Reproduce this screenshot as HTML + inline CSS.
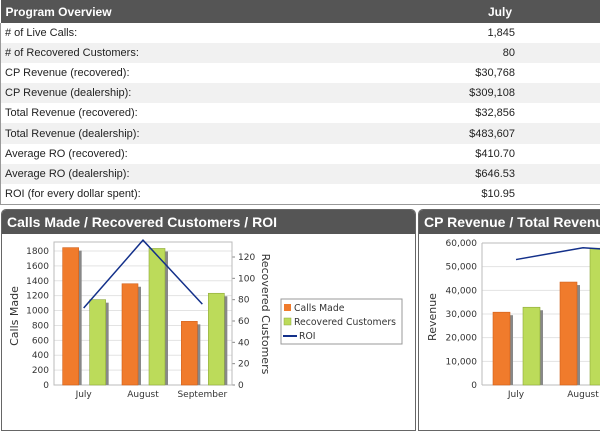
<!DOCTYPE html>
<html><head><meta charset="utf-8"><style>
body{margin:0;width:600px;height:409px;overflow:hidden;background:#fff;font-family:"Liberation Sans",sans-serif;position:relative}
#tbl{position:absolute;left:0;top:0;width:600px;border-collapse:collapse;font-size:11px;color:#222}
#tbl th{background:#555;color:#fff;font-weight:bold;font-size:12px;height:23px;padding:0 5px;text-align:left}
#tbl td{height:20.1px;padding:0 4px;border-left:1px solid #999}
#tbl tr:nth-child(odd) td{background:#f1f1f1}
#tbl td.v{text-align:right;padding-right:85px;border-left:none}
.panel{position:absolute;top:209px;height:220px;border:1px solid #666;border-radius:5px 5px 0 0;background:#fff;overflow:hidden}
.ph{height:24px;background:#555;color:#fff;font-weight:bold;font-size:14px;line-height:24px;padding-left:5px;white-space:nowrap}
svg text{font-family:"DejaVu Sans",sans-serif;font-size:9px;fill:#333}
</style></head><body>
<table id="tbl">
<tr><th>Program Overview</th><th style="text-align:right;padding-right:88px">July</th></tr>
<tr><td>&#35; of Live Calls:</td><td class="v">1,845</td></tr>
<tr><td>&#35; of Recovered Customers:</td><td class="v">80</td></tr>
<tr><td>CP Revenue (recovered):</td><td class="v">$30,768</td></tr>
<tr><td>CP Revenue (dealership):</td><td class="v">$309,108</td></tr>
<tr><td>Total Revenue (recovered):</td><td class="v">$32,856</td></tr>
<tr><td>Total Revenue (dealership):</td><td class="v">$483,607</td></tr>
<tr><td>Average RO (recovered):</td><td class="v">$410.70</td></tr>
<tr><td>Average RO (dealership):</td><td class="v">$646.53</td></tr>
<tr><td style="border-bottom:1px solid #999">ROI (for every dollar spent):</td><td class="v" style="border-bottom:1px solid #999">$10.95</td></tr>
</table>
<div class="panel" style="left:1px;width:413px"><div class="ph">Calls Made / Recovered Customers / ROI</div></div>
<div class="panel" style="left:418px;width:200px"><div class="ph">CP Revenue / Total Revenue</div></div>
<svg id="s" width="600" height="409" style="position:absolute;left:0;top:0"></svg>
<script>
const cats=["July","August","September"];
const calls=[1845,1360,855];
const recovered=[80,128,86];
const roi=[10.95,20.6,11.5];
const leftTicks=[0,200,400,600,800,1000,1200,1400,1600,1800];
const rightTicks=[0,20,40,60,80,100,120];
const cpRev=[30768,43500,50000];
const totRev=[32856,57800,60000];
const revLine=[53000,58000,56000];
const revTicks=[0,10000,20000,30000,40000,50000,60000];
const NS="http://www.w3.org/2000/svg",s=document.getElementById('s');
function el(t,a,txt){const e=document.createElementNS(NS,t);for(const k in a)e.setAttribute(k,a[k]);if(txt!=null)e.textContent=txt;s.appendChild(e);return e}
const x0=54,x1=232,y0=385,yt=242;
const yL=v=>y0-v*134/1800, yR=v=>y0-v*128/120, yROI=v=>y0-v*7.03;
const cw=(x1-x0)/cats.length, xc=i=>x0+cw*(i+0.5);
let g;
leftTicks.forEach(t=>{g=el('line',{x1:x0,x2:x1,y1:yL(t),y2:yL(t),stroke:'#e3e3e3'});
g=el('text',{x:x0-5,y:yL(t)+3,'text-anchor':'end'},t);});
rightTicks.forEach(t=>{el('line',{x1:x1,x2:x1+3,y1:yR(t),y2:yR(t),stroke:'#888'});g=el('text',{x:x1+6,y:yR(t)+3},t);});
el('rect',{x:x0,y:yt,width:x1-x0,height:y0-yt,fill:'none',stroke:'#bbb'});
cats.forEach((c,i)=>{
 const xo=xc(i)-21,xg=xc(i)+6;
 el('rect',{x:xo+3,y:yL(calls[i])+3,width:16,height:y0-yL(calls[i])-3,fill:'#888'});
 g=el('rect',{x:xo,y:yL(calls[i]),width:16,height:y0-yL(calls[i]),fill:'#f07b2c',stroke:'#d0601a','stroke-width':0.6});
 
 el('rect',{x:xg+3,y:yR(recovered[i])+3,width:16,height:y0-yR(recovered[i])-3,fill:'#888'});
 g=el('rect',{x:xg,y:yR(recovered[i]),width:16,height:y0-yR(recovered[i]),fill:'#bcdb5a',stroke:'#8ea83a','stroke-width':0.6});
 
 g=el('text',{x:xc(i),y:397,'text-anchor':'middle'},c);
});
g=el('polyline',{points:roi.map((v,i)=>xc(i)+','+yROI(v)).join(' '),fill:'none',stroke:'#13308a','stroke-width':1.5});

g=el('text',{x:18,y:316,transform:'rotate(-90 18 316)','text-anchor':'middle',style:'font-size:11px'},'Calls Made');
g=el('text',{x:262,y:314,transform:'rotate(90 262 314)','text-anchor':'middle',style:'font-size:11px'},'Recovered Customers');
g=el('rect',{x:281,y:299,width:121,height:45,fill:'#fff',stroke:'#999'});
el('rect',{x:284,y:304,width:7,height:7,fill:'#f07b2c'});g=el('text',{x:294,y:311,style:'font-size:9.3px'},'Calls Made');
el('rect',{x:284,y:318,width:7,height:7,fill:'#bcdb5a',stroke:'#8ea83a','stroke-width':0.5});g=el('text',{x:294,y:325,style:'font-size:9.3px'},'Recovered Customers');
el('line',{x1:283,x2:297,y1:336,y2:336,stroke:'#13308a','stroke-width':2});g=el('text',{x:299,y:339,style:'font-size:9.3px'},'ROI');
const a0=482,ytop=243,yV=v=>y0-v*(y0-ytop)/60000,cw2=67,xc2=i=>a0+34+cw2*i;
revTicks.forEach(t=>{el('line',{x1:a0,x2:640,y1:yV(t),y2:yV(t),stroke:'#e3e3e3'});g=el('text',{x:a0-5,y:yV(t)+3,'text-anchor':'end'},t.toLocaleString('en-US'));});
el('line',{x1:a0,x2:a0,y1:ytop,y2:y0,stroke:'#bbb'});el('line',{x1:a0,x2:640,y1:y0,y2:y0,stroke:'#bbb'});el('line',{x1:a0,x2:640,y1:ytop,y2:ytop,stroke:'#bbb'});
cats.forEach((c,i)=>{
 const xo=xc2(i)-23,xg=xc2(i)+7;
 el('rect',{x:xo+3,y:yV(cpRev[i])+3,width:17,height:y0-yV(cpRev[i])-3,fill:'#888'});
 g=el('rect',{x:xo,y:yV(cpRev[i]),width:17,height:y0-yV(cpRev[i]),fill:'#f07b2c',stroke:'#d0601a','stroke-width':0.6});
 el('rect',{x:xg+3,y:yV(totRev[i])+3,width:17,height:y0-yV(totRev[i])-3,fill:'#888'});
 g=el('rect',{x:xg,y:yV(totRev[i]),width:17,height:y0-yV(totRev[i]),fill:'#bcdb5a',stroke:'#8ea83a','stroke-width':0.6});
 g=el('text',{x:xc2(i),y:397,'text-anchor':'middle'},c);
});
g=el('polyline',{points:revLine.map((v,i)=>xc2(i)+','+yV(v)).join(' '),fill:'none',stroke:'#13308a','stroke-width':1.5});
g=el('text',{x:436,y:317,transform:'rotate(-90 436 317)','text-anchor':'middle',style:'font-size:11px'},'Revenue');
</script>
</body></html>
